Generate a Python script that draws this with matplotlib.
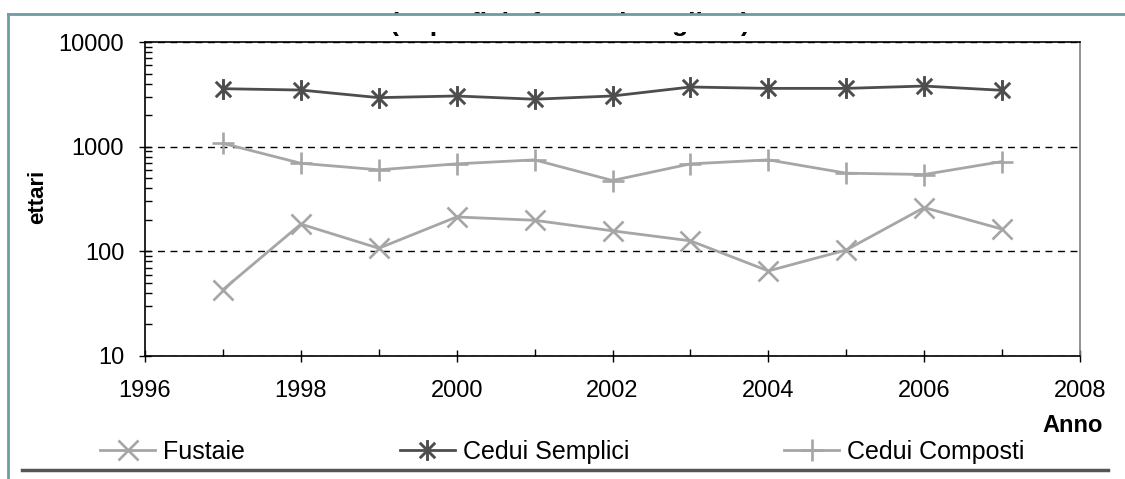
import matplotlib
matplotlib.use("Agg")
import matplotlib.pyplot as plt
from matplotlib.path import Path
from matplotlib.lines import Line2D
from matplotlib.patches import Rectangle

plt.rcParams["font.family"] = ["Liberation Sans", "DejaVu Sans"]

anni = [1997, 1998, 1999, 2000, 2001, 2002, 2003, 2004, 2005, 2006, 2007]
fustaie = [43, 182, 107, 213, 198, 157, 126, 65, 103, 262, 163]
cedui_semplici = [3580, 3475, 2940, 3050, 2840, 3050, 3715, 3605, 3605, 3795, 3455]
cedui_composti = [1075, 694, 601, 685, 748, 475, 685, 748, 558, 542, 721]

titolo = "(superficie forestale tagliata)"

W, H = 1125, 479
fig = plt.figure(figsize=(W / 100, H / 100), dpi=100)
ax = fig.add_axes([145 / W, 1 - 356 / H, (1080 - 145) / W, (356 - 42) / H])

# asterisk marker: an x crossed by a vertical bar
asterisco = Path(
    [(-1, -1), (1, 1), (-1, 1), (1, -1), (0, -1.35), (0, 1.35)],
    [Path.MOVETO, Path.LINETO, Path.MOVETO, Path.LINETO, Path.MOVETO, Path.LINETO],
)

ax.plot(anni, fustaie, color="#a6a6a6", lw=2.0, marker="x", ms=14, mew=1.9,
        label="Fustaie")
ax.plot(anni, cedui_semplici, color="#4d4d4d", lw=2.0, marker=asterisco, ms=15,
        mew=2.1, label="Cedui Semplici")
ax.plot(anni, cedui_composti, color="#a6a6a6", lw=2.0, marker="+", ms=16, mew=1.9,
        label="Cedui Composti")

ax.set_yscale("log")
ax.set_ylim(10, 10000)
ax.set_xlim(1996, 2008)
ax.set_xticks(range(1996, 2009, 2))
ax.set_xticks(range(1997, 2008, 2), minor=True)
ax.set_yticks([10, 100, 1000, 10000])
ax.set_yticklabels(["10", "100", "1000", "10000"])
ax.yaxis.set_minor_formatter(plt.NullFormatter())

ax.tick_params(axis="both", which="major", direction="inout", length=8, width=1,
               labelsize=17, pad=11)
ax.tick_params(axis="both", which="minor", direction="in", length=5, width=1)
ax.tick_params(axis="x", which="major", pad=13)

ax.yaxis.grid(True, which="major", color="black", linestyle=(0, (5, 4)), lw=1)
for s in ["left", "bottom", "top"]:
    ax.spines[s].set_color("black")
    ax.spines[s].set_linewidth(1.2)
ax.spines["right"].set_color("#808080")
ax.spines["right"].set_linewidth(1.2)

fig.text(38 / W, 1 - 197 / H, "ettari", rotation=90, fontsize=16,
         fontweight="bold", ha="center", va="center")
fig.text(1103 / W, 1 - 425 / H, "Anno", fontsize=17, fontweight="bold",
         ha="right", va="center")

# chart title, its upper part hidden behind the white band
fig.text(570 / W, 1 - 31 / H, titolo, fontsize=19, fontweight="bold",
         ha="center", va="baseline", zorder=2)
fig.patches.append(Rectangle((12 / W, 1 - 32 / H), 1, 17 / H, transform=fig.transFigure,
                             facecolor="white", edgecolor="none", zorder=3))

handles, labels = ax.get_legend_handles_labels()
fig.legend(handles, labels, loc="center left", bbox_to_anchor=(100 / W, 1 - 452 / H),
           ncol=3, frameon=False, fontsize=18, handlelength=2.2, handletextpad=0.32,
           columnspacing=6.2, borderaxespad=0, borderpad=0)

# outer frame lines
fig.add_artist(Line2D([8 / W, 1], [1 - 14 / H, 1 - 14 / H], color="#6f9ba3", lw=2,
                      transform=fig.transFigure, zorder=5))
fig.add_artist(Line2D([8 / W, 8 / W], [1 - 14 / H, 0], color="#6f9ba3", lw=2,
                      transform=fig.transFigure, zorder=5))
fig.add_artist(Line2D([22 / W, 1108 / W], [1 - 470 / H, 1 - 470 / H], color="#555555",
                      lw=2.5, transform=fig.transFigure, zorder=5))

fig.savefig("out.png", dpi=100)
